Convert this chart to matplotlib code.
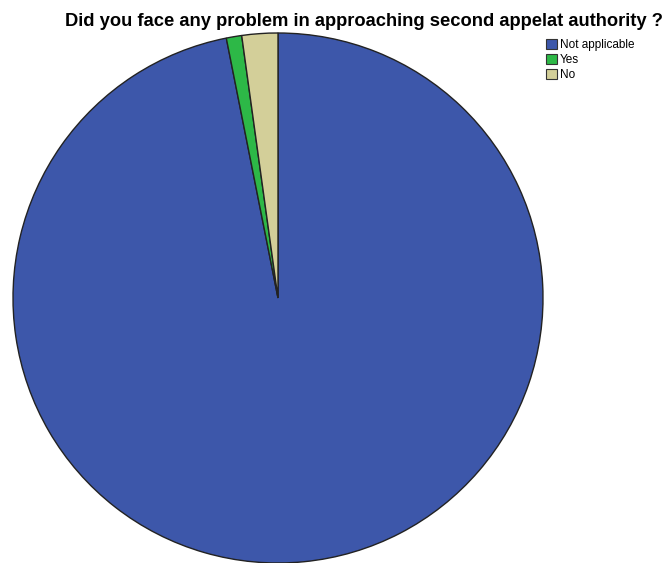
import matplotlib as mpl
mpl.use('Agg')
from matplotlib import pyplot as plt
from matplotlib.patches import Patch

# Survey answers (counts)
labels = ["Not applicable", "Yes", "No"]
counts = [310, 3, 7]
colors = ["#3d57aa", "#2db847", "#d3cf99"]

title = "Did you face any problem in approaching second appelat authority ?"

plt.rcParams['font.family'] = ['Liberation Sans', 'DejaVu Sans']

fig = plt.figure(figsize=(6.66, 5.63), dpi=100)
# pie: centre ~ (278, 298) px, radius ~265 px
W, H = 666.0, 563.0
r = 265.0
cx, cy = 278.0, 298.0
ax = fig.add_axes([(cx - r) / W, (H - cy - r) / H, 2 * r / W, 2 * r / H])
wedges, _ = ax.pie(counts, colors=colors, startangle=90, counterclock=False, radius=1,
                   wedgeprops=dict(edgecolor='#222222', linewidth=1.0))
for w in wedges:
    w.set_clip_on(False)
ax.set_xlim(-1, 1)
ax.set_ylim(-1, 1)
ax.set_aspect('equal')
ax.axis('off')

fig.text(364 / W, 1 - 21 / H, title, ha='center', va='center', fontsize=13.2, fontweight='bold')

handles = [Patch(facecolor=c, edgecolor='#333333', linewidth=0.8) for c in colors]
fig.legend(handles, labels, loc='upper left', bbox_to_anchor=(544 / W, 1 - 37 / H),
           frameon=False, fontsize=8.5, handlelength=0.9, handleheight=0.9,
           handletextpad=0.25, labelspacing=0.25, borderaxespad=0, borderpad=0.2)

plt.savefig('out.png', dpi=100, facecolor='w')
